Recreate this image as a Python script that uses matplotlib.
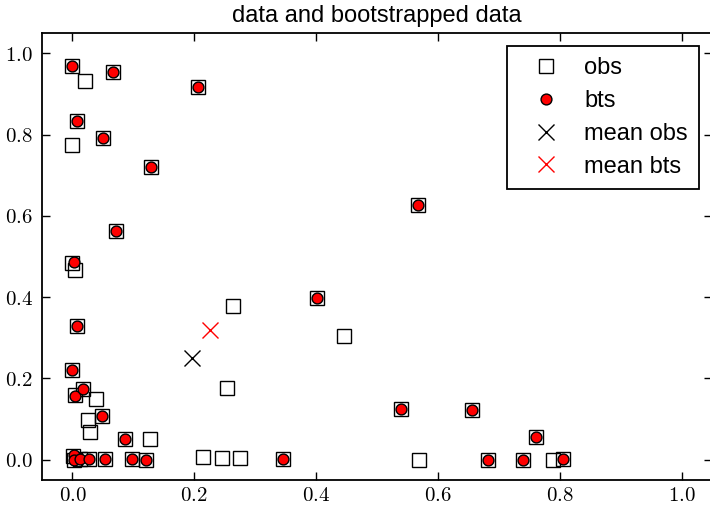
import numpy as np
import matplotlib
matplotlib.use('Agg')
import matplotlib.pyplot as plt
from matplotlib.ticker import FuncFormatter, MultipleLocator

plt.rcParams['font.family'] = ['Liberation Sans', 'DejaVu Sans']
plt.rcParams['mathtext.fontset'] = 'cm'

# observed data (squares)
obs_x = [0.000, 0.020, 0.066, 0.206, 0.007, 0.000, 0.050, 0.129, 0.567, 0.072,
         0.000, 0.004, 0.007, 0.000, 0.004, 0.017, 0.039, 0.025, 0.028, 0.048,
         0.086, 0.127, 0.264, 0.445, 0.253, 0.401, 0.540, 0.656, 0.761,
         0.001, 0.002, 0.012, 0.027, 0.053, 0.098, 0.120, 0.214, 0.246, 0.275,
         0.345, 0.569, 0.682, 0.739, 0.789, 0.806]
obs_y = [0.968, 0.931, 0.955, 0.917, 0.834, 0.774, 0.792, 0.720, 0.627, 0.562,
         0.484, 0.466, 0.330, 0.220, 0.158, 0.174, 0.150, 0.098, 0.067, 0.107,
         0.050, 0.050, 0.378, 0.305, 0.177, 0.397, 0.124, 0.123, 0.057,
         0.010, 0.000, 0.002, 0.002, 0.002, 0.002, 0.000, 0.007, 0.003, 0.003,
         0.002, 0.000, 0.000, 0.000, 0.000, 0.001]

# bootstrapped data (red circles)
bts_x = [0.000, 0.066, 0.206, 0.007, 0.050, 0.129, 0.567, 0.072, 0.002, 0.007,
         0.000, 0.004, 0.017, 0.048, 0.086, 0.401, 0.540, 0.656, 0.761,
         0.002, 0.003, 0.013, 0.027, 0.053, 0.098, 0.120, 0.345, 0.682, 0.739,
         0.806]
bts_y = [0.968, 0.955, 0.917, 0.834, 0.792, 0.720, 0.627, 0.562, 0.486, 0.330,
         0.220, 0.156, 0.174, 0.107, 0.050, 0.397, 0.124, 0.123, 0.057,
         0.012, 0.000, 0.002, 0.002, 0.002, 0.002, 0.000, 0.002, 0.000, 0.000,
         0.001]

mean_obs = (0.196, 0.250)
mean_bts = (0.226, 0.320)

fig = plt.figure(figsize=(7.1, 5.05), dpi=100)
ax = fig.add_axes([42 / 710., 25 / 505., 670 / 710., 447 / 505.])

ax.plot(obs_x, obs_y, 's', mfc='none', mec='k', mew=1.0, ms=10, label='obs')
ax.plot(bts_x, bts_y, 'o', mfc='r', mec='k', mew=1.0, ms=7.8, label='bts')
ax.plot(mean_obs[0], mean_obs[1], 'x', color='k', ms=11, mew=1.0, label='mean obs')
ax.plot(mean_bts[0], mean_bts[1], 'x', color='r', ms=11, mew=1.0, label='mean bts')

ax.set_xlim(-0.05, 1.05)
ax.set_ylim(-0.05, 1.05)
ax.xaxis.set_major_locator(MultipleLocator(0.2))
ax.yaxis.set_major_locator(MultipleLocator(0.2))
fmt = FuncFormatter(lambda v, p: r'$\mathrm{%.1f}$' % v)
ax.xaxis.set_major_formatter(fmt)
ax.yaxis.set_major_formatter(fmt)
ax.tick_params(direction='in', top=True, right=True, length=6, width=1,
               labelsize=15)
ax.tick_params(axis='x', pad=4.5)
ax.tick_params(axis='y', pad=6.5)
for sp in ax.spines.values():
    sp.set_linewidth(1.3)

ax.set_title('data and bootstrapped data', fontsize=17, pad=8)
leg = ax.legend(loc='upper right', numpoints=1, fontsize=17, fancybox=False,
                framealpha=1, edgecolor='k', borderaxespad=0.55,
                labelspacing=0.46, handlelength=2.37, handletextpad=0.42,
                borderpad=0.47)
leg.get_frame().set_linewidth(1.3)

fig.savefig('out.png', dpi=100)
